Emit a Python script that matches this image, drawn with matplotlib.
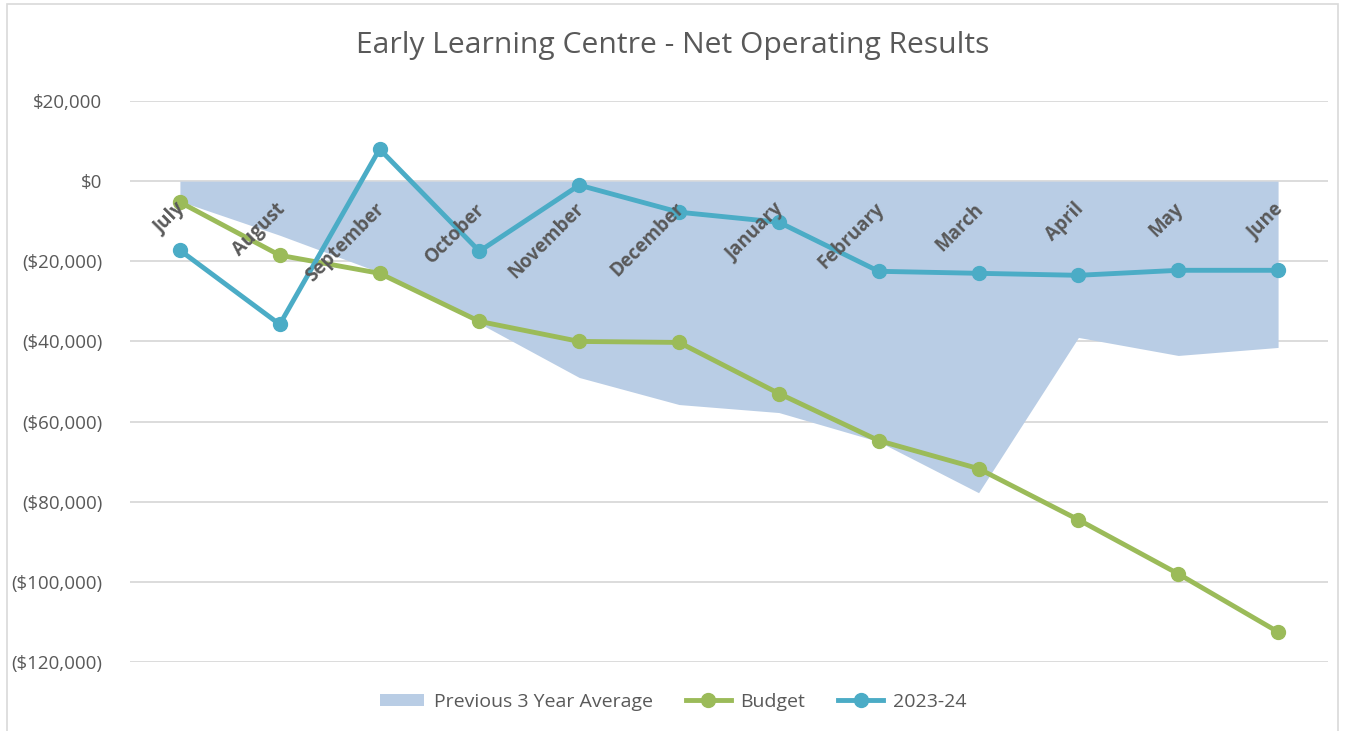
import matplotlib
matplotlib.use("Agg")
import matplotlib.pyplot as plt
from matplotlib.patches import Rectangle
from matplotlib.ticker import FuncFormatter

months = ["July", "August", "September", "October", "November", "December",
          "January", "February", "March", "April", "May", "June"]
prev_avg = [-5000, -13500, -22750, -35500, -49000, -55750, -57750, -65000,
            -77750, -39000, -43500, -41500]
budget = [-5250, -18500, -23000, -35000, -40000, -40250, -53000, -64750,
          -71750, -84500, -98000, -112500]
actual = [-17250, -35750, 8000, -17500, -1000, -7750, -10250, -22500,
          -23000, -23500, -22250, -22250]
yticks = [20000, 0, -20000, -40000, -60000, -80000, -100000, -120000]

FONT = "Open Sans"
TXT = "#595959"
plt.rcParams["font.family"] = [FONT, "DejaVu Sans"]

W, H = 1345, 731
fig = plt.figure(figsize=(W / 100, H / 100), dpi=100)
ax = fig.add_axes([130 / W, 1 - 662 / H, (1328 - 130) / W, (662 - 101) / H])

x = list(range(len(months)))
ax.fill_between(x, prev_avg, 0, color="#B9CDE5", lw=0, zorder=1,
                label="Previous 3 Year Average")
ax.plot(x, budget, color="#9BBB59", lw=3.5, marker="o", ms=10, zorder=3,
        label="Budget")
ax.plot(x, actual, color="#4BACC6", lw=3.5, marker="o", ms=10, zorder=4,
        label="2023-24")

ax.set_xlim(-0.5, len(months) - 0.5)
ax.set_ylim(-120000, 20000)
ax.set_yticks(yticks)
ax.yaxis.set_major_formatter(FuncFormatter(
    lambda v, p: f"${v:,.0f}" if v >= 0 else f"(${-v:,.0f})"))
ax.tick_params(axis="y", length=0, pad=20, labelsize=13.5, labelcolor=TXT)
ax.set_xticks([])
ax.grid(axis="y", color="#D9D9D9", lw=1.3, zorder=0)
ax.set_axisbelow(True)
for s in ax.spines.values():
    s.set_visible(False)

for i, m in enumerate(months):
    ax.annotate(m, xy=(i, 0), xytext=(-3.5, -13), textcoords="offset points",
                rotation=45, rotation_mode="anchor", ha="right", va="top",
                fontsize=13.5, fontweight="bold", color=TXT, zorder=5)

fig.text(673 / W, 1 - 46 / H, "Early Learning Centre - Net Operating Results",
         ha="center", va="center", fontsize=21.6, color=TXT)

fig.legend(loc="center", bbox_to_anchor=(673 / W, 1 - 702 / H), ncol=3,
           frameon=False, fontsize=14, labelcolor=TXT, handlelength=2.3,
           handleheight=0.6, columnspacing=1.7, handletextpad=0.5)

fig.patches.append(Rectangle((7 / W, -0.01), (1338 - 7) / W, 1 - 4 / H + 0.01,
                             transform=fig.transFigure, fill=False,
                             edgecolor="#D9D9D9", lw=1.2))

fig.savefig("out.png", dpi=100)
